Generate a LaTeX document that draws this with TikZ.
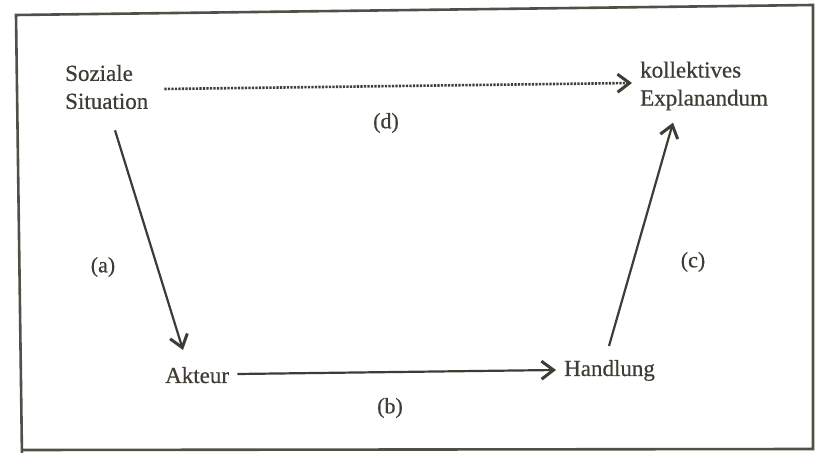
\documentclass[tikz,border=0pt]{standalone}
\usepackage{fontspec}
\setmainfont{Liberation Serif}
\newfontfamily\scanfont[FakeBold=0.5]{Liberation Serif}
\usetikzlibrary{arrows.meta,calc}
\definecolor{ink}{RGB}{62,60,52}
\tikzset{
  x=1pt,y=1pt,
  txt/.style={inner sep=0pt, text=ink, font=\fontsize{23}{28}\selectfont\scanfont, align=left},
  lbl/.style={inner sep=0pt, text=ink, font=\fontsize{22}{26}\selectfont\scanfont},
  arr/.style={draw=ink, line width=2.2pt, -{Straight Barb[length=12pt,width=18pt,line width=3pt]}},
  dotarr/.style={draw=ink, line width=2.6pt, dash pattern=on 2.2pt off 1.3pt, -{Straight Barb[length=12pt,width=18pt,line width=3pt]}},
  frame/.style={draw=ink!90, line width=2.6pt}
}
\begin{document}
\begin{tikzpicture}
\useasboundingbox (0,0) rectangle (818,452);
\fill[white] (0,0) rectangle (818,452);
\begin{scope}
\clip (0,0) rectangle (818,452);
\draw[frame] (22,-5) -- (16,437) -- (813,447) -- (813,3) -- (22,2);
\end{scope}

\node[txt, anchor=west] (soz) at (65,365) {Soziale\\Situation};
\node[txt, anchor=west] (kol) at (640,366) {kollektives\\Explanandum};
\node[txt, anchor=base west] (akt) at (165,69) {Akteur};
\node[txt, anchor=base west] (han) at (564,76) {Handlung};

\node[lbl] (ld) at (386,329) {(d)};
\node[lbl] (la) at (103,185) {(a)};
\node[lbl] (lc) at (693,190) {(c)};
\node[lbl] (lb) at (390,44) {(b)};

\draw[dotarr] ($(soz.east)+(16,-2)$) -- ($(kol.west)+(-8,3)$);
\draw[arr] ($(soz.south west)+(50,-21)$) -- ($(akt.base west)+(18,33)$);
\draw[arr] ($(akt.base east)+(8,9)$) -- ($(han.base west)+(-8,6)$);
\draw[arr] ($(han.base west)+(45,30)$) -- ($(kol.south west)+(33,-12)$);
\end{tikzpicture}
\end{document}
